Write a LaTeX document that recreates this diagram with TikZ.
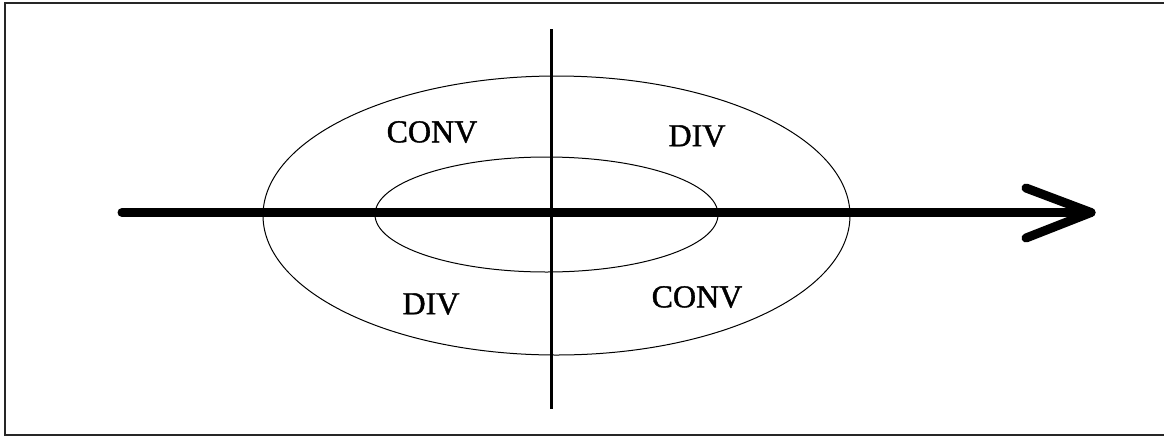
\documentclass[tikz,border=0pt]{standalone}
\usepackage{fontspec}
\setmainfont{Liberation Serif}
\newfontfamily\lblfont[FakeBold=1.2]{Liberation Serif}
\begin{document}
\begin{tikzpicture}[x=1pt,y=-1pt,
  frame/.style={line width=2pt,draw=black!85},
  thickline/.style={line width=9pt,line cap=round,line join=round},
  thinline/.style={line width=1pt},
  axisv/.style={line width=3pt},
  lbl/.style={font=\lblfont\fontsize{32}{32}\selectfont,inner sep=0pt,anchor=center}]
\useasboundingbox (0,0) rectangle (1164,437);
% frame (top, left, bottom)
\draw[frame] (1164,2.5) -- (5,2.5) -- (5,435) -- (1164,435);
% ellipses
\draw[thinline] (556.5,215.5) ellipse [x radius=293.5, y radius=139.5];
\draw[thinline] (546.5,214.5) ellipse [x radius=171.5, y radius=57.5];
% vertical axis
\coordinate (vt) at (551,29);
\coordinate (vb) at (551,409);
\draw[axisv] (vt) -- (vb);
% horizontal arrow
\coordinate (hl) at (122,212.5);
\coordinate (hr) at (1091,212.5);
\coordinate (a1) at (1026,188);
\coordinate (a2) at (1026,238);
\draw[thickline] (hl) -- (hr);
\draw[thickline] (a1) -- (hr) -- (a2);
% labels
\node[lbl] (c1) at (432,132) {CONV};
\node[lbl] (d1) at (697,136) {DIV};
\node[lbl] (d2) at (431,304) {DIV};
\node[lbl] (c2) at (697,297) {CONV};
\end{tikzpicture}
\end{document}
